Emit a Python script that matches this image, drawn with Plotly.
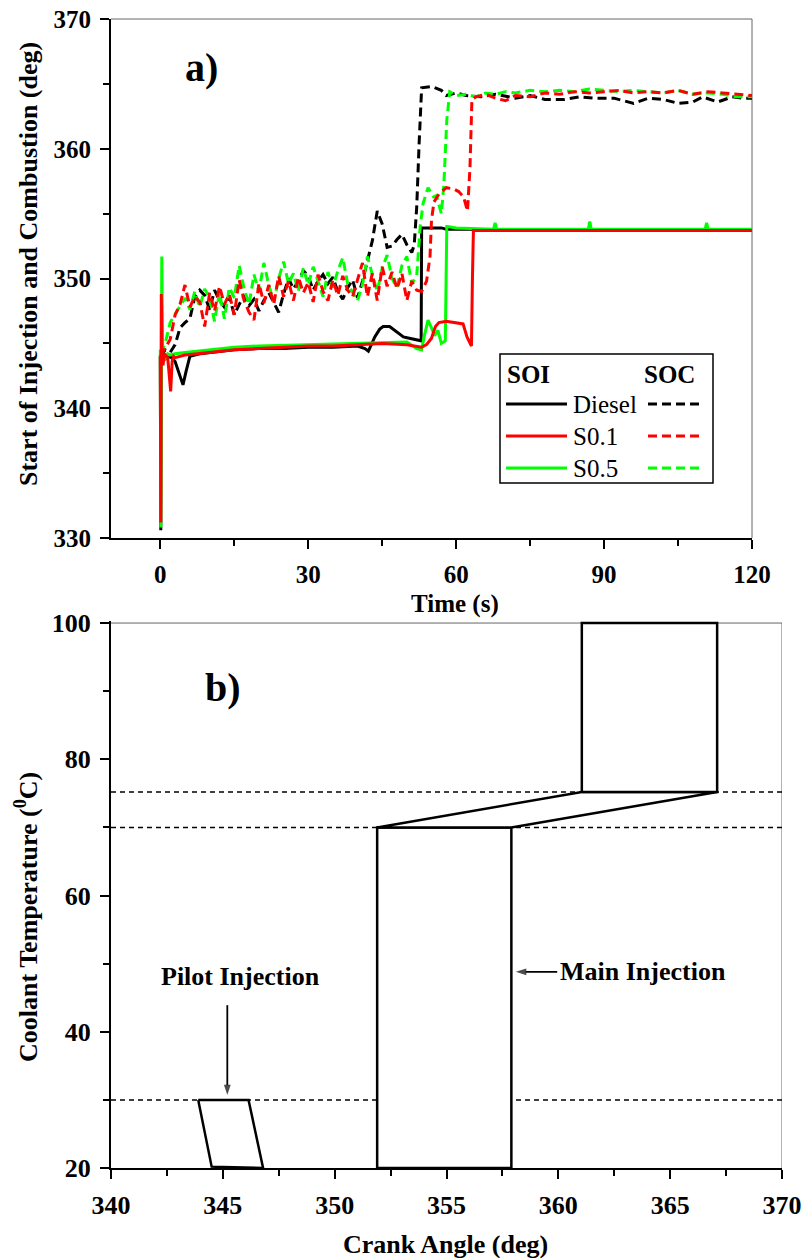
import plotly.graph_objects as go

W, H = 805, 1258
FONT = "Times New Roman, Liberation Serif, serif"

# ---------------- Panel a) data : start of injection / combustion vs time ----------------
T_GRID = [0, 1, 2, 3, 4, 5, 6, 7, 8, 9, 10, 11, 12, 13, 14, 15, 16, 17, 18, 19, 20,
          21, 22, 23, 24, 25, 26, 27, 28, 29, 30, 31, 32, 33, 34, 35, 36, 37, 38, 39, 40,
          41, 42, 43, 44, 45, 46, 47, 48, 49, 50, 51]

# SOC (dashed)
diesel_soc_noisy = [344.0, 344.5, 344.3, 344.9, 346.2, 346.6, 346.9, 348.6, 349.1, 348.7, 347.6,
                    349.1, 348.3, 347.8, 348.6, 347.2, 348.0, 348.7, 347.9, 348.4, 347.5,
                    348.3, 348.9, 348.2, 347.4, 348.8, 350.0, 349.2, 349.8, 350.6, 350.2,
                    349.1, 349.8, 350.3, 349.6, 350.1, 349.0, 348.4, 349.3, 349.9, 348.5,
                    349.8, 351.4, 352.9, 355.2, 354.2, 352.4, 352.5, 353.0, 353.4, 352.6, 352.0]
diesel_soc_t_tail = [51.5, 52, 52.5, 53, 55, 57, 58, 60, 62, 65, 68, 72, 75, 78, 82, 85, 88,
                     92, 96, 99, 102, 105, 108, 110, 113, 116, 118, 120]
diesel_soc_tail = [352.6, 355.5, 360.5, 364.7, 364.8, 364.5, 364.1, 364.3, 364.1, 364.0, 364.2,
                   363.9, 364.1, 363.8, 363.8, 364.0, 363.9, 363.9, 363.5, 363.9, 363.8, 363.5,
                   363.6, 364.0, 363.6, 364.0, 363.9, 363.9]

s01_soc_noisy = [344.0, 344.6, 345.3, 347.2, 348.0, 349.5, 347.8, 348.6, 348.2, 346.3, 348.9,
                 347.5, 349.4, 348.0, 348.8, 347.2, 349.9, 348.3, 347.4, 346.8, 349.6,
                 348.1, 349.5, 348.0, 350.2, 348.6, 349.8, 348.3, 350.1, 348.9, 349.7,
                 348.2, 350.3, 349.0, 348.3, 349.9, 348.7, 350.2, 349.1, 348.6, 350.0,
                 351.2, 348.6, 350.4, 348.3, 350.9, 349.4, 350.5, 349.2, 350.4, 348.3, 349.8]
s01_soc_t_tail = [52, 53, 54, 54.7, 55, 55.5, 56.5, 58, 59.5, 60.5, 61.5, 62.3, 62.8, 63.2, 64,
                  66, 68, 70, 72, 75, 78, 81, 84, 87, 90, 93, 96, 99, 102, 105, 108, 111, 114,
                  117, 120]
s01_soc_tail = [349.1, 349.0, 349.8, 351.7, 354.5, 355.9, 356.5, 357.0, 356.9, 356.7, 356.3,
                355.2, 358.5, 363.8, 364.0, 364.2, 363.9, 363.7, 364.1, 364.0, 364.3, 364.2,
                364.4, 364.3, 364.4, 364.5, 364.3, 364.4, 364.3, 364.5, 364.2, 364.4, 364.3,
                364.2, 364.1]

s05_soc_noisy = [344.2, 345.0, 346.6, 347.2, 347.8, 348.5, 347.6, 349.0, 347.8, 349.2, 348.5,
                 346.7, 348.9, 346.9, 349.3, 348.5, 351.0, 349.2, 348.0, 350.3, 349.0,
                 351.2, 349.5, 348.2, 350.0, 351.3, 349.6, 350.4, 349.0, 350.8, 349.5,
                 350.9, 349.8, 348.6, 350.5, 349.3, 350.6, 351.6, 349.6, 348.9, 348.3,
                 349.5, 351.7, 350.3, 349.0, 350.8, 351.8, 350.0, 349.3, 351.0, 351.7, 349.6]
s05_soc_t_tail = [52, 52.7, 53.3, 54.3, 55.4, 56, 57, 57.5, 58.1, 58.7, 60, 62, 64, 66, 68, 70,
                  72, 75, 78, 81, 84, 87, 90, 93, 96, 99, 102, 105, 108, 111, 114, 117, 120]
s05_soc_tail = [350.2, 354.0, 355.8, 357.0, 356.3, 356.4, 355.0, 357.2, 362.2, 364.4, 364.1,
                364.2, 364.0, 364.3, 364.2, 364.4, 364.3, 364.5, 364.4, 364.5, 364.4, 364.6,
                364.5, 364.4, 364.5, 364.4, 364.3, 364.5, 364.2, 364.3, 364.2, 364.0, 364.0]

# SOI (solid)
diesel_soi_t = [0, 0.1, 0.2, 0.4, 1, 2, 3, 4, 4.6, 5.2, 5.7, 6, 8, 10, 15, 20, 25, 30, 35, 40,
                41.5, 42.2, 43.5, 44.5, 45.2, 46.5, 47.9, 49.3, 50.5, 52, 52.9, 53.0, 55, 57,
                58, 60, 63, 65, 120]
diesel_soi = [344.0, 330.6, 344.5, 344.0, 343.8, 344.0, 343.6, 342.5, 341.8, 342.8, 343.7,
              344.0, 344.2, 344.3, 344.5, 344.6, 344.6, 344.7, 344.7, 344.8, 344.6, 344.4,
              345.5, 346.1, 346.3, 346.3, 345.9, 345.5, 345.4, 345.3, 345.2, 353.9, 353.9,
              353.9, 353.8, 353.8, 353.8, 353.7, 353.7]

s01_soi_t = [0, 0.1, 0.2, 0.35, 0.55, 0.8, 1.5, 2.1, 2.4, 2.7, 3, 5, 10, 15, 20, 25, 30, 35,
             40, 45, 50, 52, 53, 54, 55, 55.8, 56.5, 58, 60, 61.4, 62.2, 62.7, 63.1, 63.3,
             63.5, 64, 120]
s01_soi = [344.0, 331.2, 348.8, 344.0, 343.3, 344.2, 343.9, 341.3, 343.6, 344.0, 343.9, 344.1,
           344.3, 344.5, 344.6, 344.7, 344.8, 344.8, 344.9, 345.0, 344.9, 344.8, 344.7, 344.9,
           345.4, 346.3, 346.6, 346.7, 346.6, 346.5, 345.5, 345.1, 344.8, 350.0, 353.7, 353.7,
           353.7]

s05_soi_t = [0, 0.1, 0.3, 0.5, 1, 1.5, 2, 3, 5, 10, 15, 20, 30, 40, 45, 50, 52, 53, 53.5,
             54.3, 55, 55.6, 56.3, 57.0, 57.8, 58.1, 58.3, 60, 67.6, 67.9, 68.2, 75, 86.8,
             87.1, 87.4, 100, 110.5, 110.8, 111.1, 120]
s05_soi = [344.5, 330.8, 351.7, 344.0, 343.8, 344.2, 344.1, 344.2, 344.3, 344.5, 344.7, 344.8,
           344.9, 345.0, 345.1, 345.1, 344.6, 344.5, 345.5, 346.8, 346.2, 345.6, 346.0, 345.0,
           345.2, 354.0, 354.0, 353.9, 353.8, 354.3, 353.8, 353.8, 353.8, 354.4, 353.8,
           353.8, 353.8, 354.3, 353.8, 353.8]

# ---------------- Panel b) data : injection timing map vs coolant temperature ----------------
temp_levels = [75.2, 70.0, 30.0]          # dashed threshold lines
crank_range = [340, 370]
pilot_x = [343.9, 346.15, 346.8, 344.5, 343.9]
pilot_y = [30.0, 30.0, 20.0, 20.2, 30.0]
main_low_x = [351.9, 357.9, 357.9, 351.9, 351.9]
main_low_y = [20.0, 20.0, 70.0, 70.0, 20.0]
main_mid_x = [351.9, 357.9, 367.1, 361.05, 351.9]
main_mid_y = [70.0, 70.0, 75.2, 75.2, 70.0]
main_top_x = [361.05, 367.1, 367.1, 361.05, 361.05]
main_top_y = [75.2, 75.2, 100.0, 100.0, 75.2]
pilot_arrow_x = [345.2, 345.2]
pilot_arrow_y = [43.9, 30.7]
main_arrow_x = [359.95, 358.1]
main_arrow_y = [48.8, 48.8]

BLACK, RED, GREEN = "#000000", "#FF0000", "#00FF00"
DASH = "9px,5px"

fig = go.Figure()

def px(x):
    return x / W

def py(y):
    return 1 - y / H

# --- panel a traces (order: black, green, red so red on top) ---
def add_a(t, v, color, dash):
    fig.add_trace(go.Scatter(x=t, y=v, mode="lines", xaxis="x", yaxis="y",
                             line=dict(color=color, width=3, dash=dash),
                             showlegend=False, hoverinfo="skip"))

add_a(diesel_soi_t, diesel_soi, BLACK, "solid")
add_a(T_GRID + diesel_soc_t_tail, diesel_soc_noisy + diesel_soc_tail, BLACK, DASH)
add_a(s05_soi_t, s05_soi, GREEN, "solid")
add_a(T_GRID + s05_soc_t_tail, s05_soc_noisy + s05_soc_tail, GREEN, DASH)
add_a(s01_soi_t, s01_soi, RED, "solid")
add_a(T_GRID + s01_soc_t_tail, s01_soc_noisy + s01_soc_tail, RED, DASH)

# --- panel b traces ---
for lvl in temp_levels:
    fig.add_trace(go.Scatter(x=crank_range, y=[lvl, lvl], mode="lines", xaxis="x2", yaxis="y2",
                             line=dict(color=BLACK, width=1.5, dash="5px,4px"),
                             showlegend=False, hoverinfo="skip"))
for xs, ys in [(pilot_x, pilot_y), (main_low_x, main_low_y), (main_mid_x, main_mid_y),
               (main_top_x, main_top_y)]:
    fig.add_trace(go.Scatter(x=xs, y=ys, mode="lines", xaxis="x2", yaxis="y2", fill="toself",
                             fillcolor="white", line=dict(color=BLACK, width=2.5),
                             showlegend=False, hoverinfo="skip"))

# arrows (line + arrow-head marker pointing along the line)
for xs, ys in [(pilot_arrow_x, pilot_arrow_y), (main_arrow_x, main_arrow_y)]:
    fig.add_trace(go.Scatter(x=xs, y=ys, mode="lines+markers", xaxis="x2", yaxis="y2",
                             line=dict(color=BLACK, width=1.8),
                             marker=dict(symbol=["line-ew", "arrow"], size=[0, 11],
                                         angleref="previous", color=BLACK,
                                         line=dict(width=0)),
                             showlegend=False, hoverinfo="skip"))

tickfont = dict(family=FONT, size=25, color=BLACK, weight="bold")
tickfont_b = dict(family=FONT, size=26, color=BLACK, weight="bold")
axis_common = dict(showline=True, linecolor=BLACK, linewidth=2, ticks="outside",
                   tickcolor=BLACK, tickwidth=2, ticklen=9, showgrid=False, zeroline=False,
                   mirror=False, automargin=False, ticklabelstandoff=4)

fig.update_layout(
    width=W, height=H, margin=dict(l=0, r=0, t=0, b=0),
    paper_bgcolor="white", plot_bgcolor="white", showlegend=False,
    font=dict(family=FONT, color=BLACK),
    xaxis=dict(domain=[px(111), px(752)], anchor="y", range=[-10, 120], tick0=0, dtick=30,
               minor=dict(ticks="outside", dtick=15, tick0=0, ticklen=6, tickwidth=2, tickcolor=BLACK),
               tickfont=tickfont, **axis_common),
    yaxis=dict(domain=[py(538), py(19)], anchor="x", range=[330, 370], tick0=330, dtick=10,
               minor=dict(ticks="outside", dtick=5, tick0=330, ticklen=6, tickwidth=2, tickcolor=BLACK),
               tickfont=tickfont, **axis_common),
    xaxis2=dict(domain=[px(111), px(782)], anchor="y2", range=[340, 370], tick0=340, dtick=5,
                minor=dict(ticks="outside", dtick=2.5, tick0=340, ticklen=6, tickwidth=2, tickcolor=BLACK),
                tickfont=tickfont_b, **axis_common),
    yaxis2=dict(domain=[py(1168), py(621)], anchor="x2", range=[20, 100.3], tick0=20, dtick=20,
                minor=dict(ticks="outside", dtick=10, tick0=20, ticklen=6, tickwidth=2, tickcolor=BLACK),
                tickfont=tickfont_b, **axis_common),
)

# thin grey top / right frame lines
fig.add_shape(type="line", xref="x domain", yref="y domain", x0=0, x1=1, y0=1, y1=1,
              line=dict(color="#666666", width=1), layer="below")
fig.add_shape(type="line", xref="x domain", yref="y domain", x0=1, x1=1, y0=0, y1=1,
              line=dict(color="#666666", width=1), layer="below")
fig.add_shape(type="line", xref="x2", yref="y2", x0=340, x1=370, y0=100, y1=100,
              line=dict(color="#666666", width=1), layer="below")
fig.add_shape(type="line", xref="x2", yref="y2", x0=370, x1=370, y0=20, y1=100,
              line=dict(color="#666666", width=1), layer="below")

# --- legend of panel a (custom two-column layout) ---
fig.add_shape(type="rect", xref="paper", yref="paper", x0=px(500), x1=px(713), y0=py(483),
              y1=py(354), line=dict(color=BLACK, width=1.5), fillcolor="white", layer="above")
leg_rows = [("Diesel", BLACK, 404), ("S0.1", RED, 436), ("S0.5", GREEN, 468)]
for name, col, yy in leg_rows:
    fig.add_shape(type="line", xref="paper", yref="paper", x0=px(506), x1=px(567),
                  y0=py(yy), y1=py(yy), line=dict(color=col, width=3))
    fig.add_shape(type="line", xref="paper", yref="paper", x0=px(648), x1=px(703),
                  y0=py(yy), y1=py(yy), line=dict(color=col, width=3, dash=DASH))
    fig.add_annotation(text=name, xref="paper", yref="paper", x=px(571), y=py(yy),
                       xanchor="left", yanchor="middle", showarrow=False,
                       font=dict(family=FONT, size=25, color=BLACK))
fig.add_annotation(text="<b>SOI</b>", xref="paper", yref="paper", x=px(505), y=py(374),
                   xanchor="left", yanchor="middle", showarrow=False,
                   font=dict(family=FONT, size=25, color=BLACK))
fig.add_annotation(text="<b>SOC</b>", xref="paper", yref="paper", x=px(642), y=py(374),
                   xanchor="left", yanchor="middle", showarrow=False,
                   font=dict(family=FONT, size=25, color=BLACK))

# --- axis titles ---
title_font = dict(family=FONT, size=26, color=BLACK, weight="bold")
fig.add_annotation(text="Start of Injection and Combustion (deg)", xref="paper", yref="paper",
                   x=px(28), y=py(264), textangle=-90, showarrow=False,
                   xanchor="center", yanchor="middle", font=title_font)
fig.add_annotation(text="Time (s)", xref="paper", yref="paper", x=px(455), y=py(604),
                   showarrow=False, xanchor="center", yanchor="middle",
                   font=dict(family=FONT, size=25, color=BLACK, weight="bold"))
fig.add_annotation(text="Coolant Temperature (<sup>0</sup>C)", xref="paper", yref="paper",
                   x=px(26), y=py(917), textangle=-90, showarrow=False,
                   xanchor="center", yanchor="middle", font=title_font)
fig.add_annotation(text="Crank Angle (deg)", xref="paper", yref="paper", x=px(446), y=py(1244),
                   showarrow=False, xanchor="center", yanchor="middle", font=title_font)

# --- panel labels ---
fig.add_annotation(text="a)", xref="x", yref="y", x=8.4, y=366.3, showarrow=False,
                   font=dict(family=FONT, size=40, color=BLACK, weight="bold"))
fig.add_annotation(text="b)", xref="x2", yref="y2", x=345.0, y=90.6, showarrow=False,
                   font=dict(family=FONT, size=40, color=BLACK, weight="bold"))

# --- panel b annotations ---
fig.add_annotation(text="Pilot Injection", xref="x2", yref="y2", x=345.77, y=48.1,
                   showarrow=False, font=dict(family=FONT, size=26, color=BLACK, weight="bold"))
fig.add_annotation(text="Main Injection", xref="x2", yref="y2", x=360.0, y=48.8,
                   xanchor="left", showarrow=False,
                   font=dict(family=FONT, size=26, color=BLACK, weight="bold"))

fig.write_html("out.html")
